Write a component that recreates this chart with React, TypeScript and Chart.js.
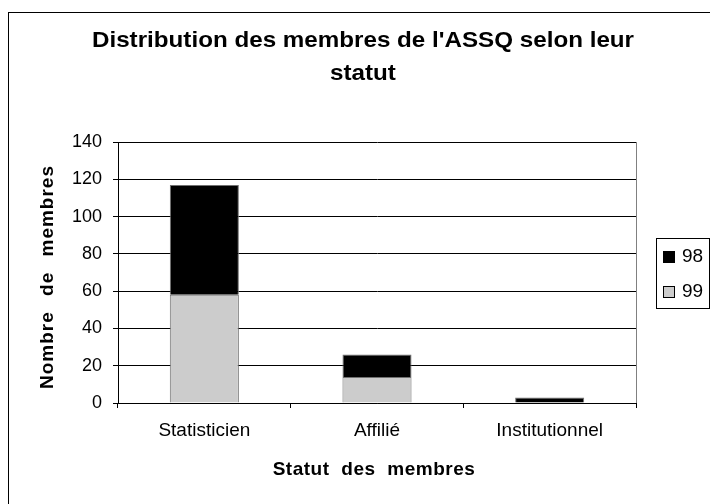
import React, { useEffect, useRef } from "react";
import { Chart, registerables } from "chart.js";

Chart.register(...registerables);

const TITLE_LINES = ["Distribution des membres de l'ASSQ selon leur", "statut"];
const X_TITLE = "Statut des membres";
const Y_TITLE = "Nombre de membres";
const CATEGORIES = ["Statisticien", "Affilié", "Institutionnel"];
const SERIES_LABELS = ["99", "98"];
const SERIES_99 = [58, 14, 0];
const SERIES_98 = [59, 12, 3];
const SERIES_COLORS = ["#CCCCCC", "#000000"];
const Y_MIN = 0;
const Y_MAX = 140;
const Y_STEP = 20;

const FONT = "'Liberation Sans', Arial, Helvetica, sans-serif";

const decorPlugin = {
  id: "decor",
  beforeDraw(chart: any) {
    (chart.ctx as any).letterSpacing = "0px";
    (chart.ctx as any).wordSpacing = "0px";
  },
  afterDraw(chart: any) {
    const ctx: any = chart.ctx;
    const { right, top, bottom } = chart.chartArea;
    ctx.save();
    // plot area right border
    ctx.strokeStyle = "#808080";
    ctx.lineWidth = 1;
    ctx.beginPath();
    ctx.moveTo(Math.round(right) + 0.5, top);
    ctx.lineTo(Math.round(right) + 0.5, bottom);
    ctx.stroke();

    ctx.fillStyle = "#000";
    ctx.textBaseline = "alphabetic";
    ctx.textAlign = "center";

    // chart title (horizontally widened like the reference)
    ctx.save();
    ctx.font = `bold 21.5px ${FONT}`;
    ctx.translate(354, 0);
    ctx.scale(1.125, 1);
    TITLE_LINES.forEach((line, i) => {
      ctx.fillText(line, 0, 34 + i * 33);
    });
    ctx.restore();

    // x axis title
    ctx.font = `bold 19px ${FONT}`;
    ctx.letterSpacing = "0.5px";
    ctx.wordSpacing = "6px";
    ctx.fillText(X_TITLE, 365, 462);

    // y axis title
    ctx.save();
    ctx.translate(44, 264);
    ctx.rotate(-Math.PI / 2);
    ctx.letterSpacing = "1px";
    ctx.wordSpacing = "9px";
    ctx.fillText(Y_TITLE, 0, 0);
    ctx.restore();

    // legend
    ctx.letterSpacing = "0px";
    ctx.wordSpacing = "0px";
    ctx.strokeStyle = "#000";
    ctx.strokeRect(647.5, 225.5, 53, 70);
    const ds = chart.data.datasets.slice().reverse();
    ctx.textAlign = "left";
    ctx.font = `19px ${FONT}`;
    ds.forEach((d: any, i: number) => {
      const y = 238 + i * 35;
      ctx.fillStyle = d.backgroundColor;
      ctx.fillRect(654, y, 12, 12);
      ctx.strokeStyle = "#000";
      ctx.strokeRect(654.5, y + 0.5, 11, 11);
      ctx.fillStyle = "#000";
      ctx.fillText(d.label, 673, y + 11);
    });
    ctx.restore();
  },
};

export default function App() {
  const canvasRef = useRef<HTMLCanvasElement | null>(null);

  useEffect(() => {
    const canvas = canvasRef.current;
    if (!canvas) return;
    const chart = new Chart(canvas, {
      type: "bar",
      data: {
        labels: CATEGORIES,
        datasets: [
          {
            label: SERIES_LABELS[0],
            data: SERIES_99,
            backgroundColor: SERIES_COLORS[0],
            borderColor: "#707070",
            borderWidth: 1,
            barPercentage: 0.4,
            categoryPercentage: 1,
          },
          {
            label: SERIES_LABELS[1],
            data: SERIES_98,
            backgroundColor: SERIES_COLORS[1],
            borderColor: "#707070",
            borderWidth: 1,
            barPercentage: 0.4,
            categoryPercentage: 1,
          },
        ],
      },
      options: {
        animation: false,
        responsive: false,
        maintainAspectRatio: false,
        layout: { padding: { top: 129, right: 74, bottom: 0, left: 0 } },
        plugins: {
          legend: { display: false },
          title: { display: false },
          tooltip: { enabled: false },
        },
        scales: {
          x: {
            stacked: true,
            grid: {
              display: true,
              drawOnChartArea: false,
              drawTicks: true,
              tickLength: 5,
              color: "#000",
              offset: true,
            },
            border: { color: "#000", width: 1 },
            ticks: {
              color: "#000",
              font: { family: FONT, size: 19 },
              padding: 11,
              maxRotation: 0,
            },
            afterFit: (s: any) => {
              s.height = 101;
            },
          },
          y: {
            stacked: true,
            min: Y_MIN,
            max: Y_MAX,
            ticks: {
              stepSize: Y_STEP,
              color: "#000",
              font: { family: FONT, size: 18 },
              padding: 11,
            },
            grid: { color: "#000", tickLength: 5, lineWidth: 1 },
            border: { color: "#000", width: 1 },
            afterFit: (s: any) => {
              s.width = 109;
            },
          },
        },
      },
      plugins: [decorPlugin],
    });
    return () => chart.destroy();
  }, []);

  return (
    <div
      style={{
        position: "absolute",
        left: 8,
        top: 12,
        width: 702,
        height: 492,
        boxSizing: "border-box",
        borderLeft: "1px solid #000",
        borderTop: "1px solid #000",
        background: "#fff",
        overflow: "hidden",
      }}
    >
      <canvas ref={canvasRef} width={701} height={491} style={{ display: "block" }} />
    </div>
  );
}
